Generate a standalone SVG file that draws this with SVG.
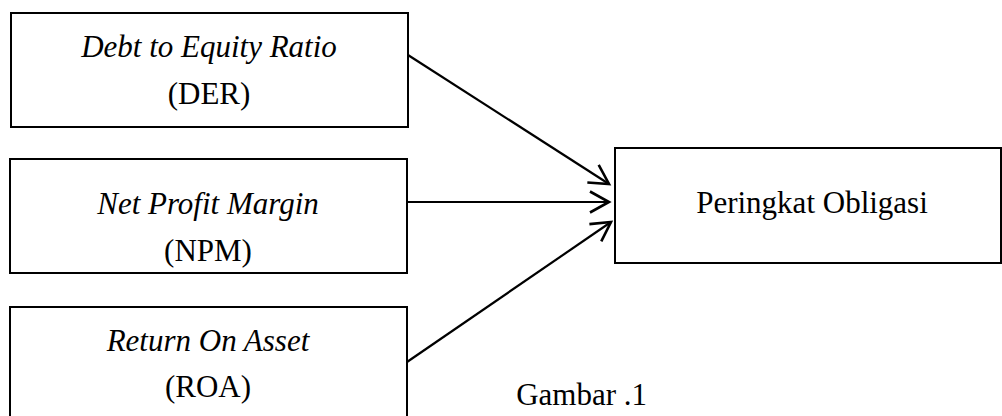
<svg xmlns="http://www.w3.org/2000/svg" width="1002" height="416" viewBox="0 0 1002 416">
<defs>
<style>
.box{fill:#fff;stroke:#000;stroke-width:2}
.t{font-family:"Liberation Serif","Times New Roman",serif;font-size:31px;fill:#000;text-anchor:middle}
.i{font-style:italic}
.c{fill:none;stroke:#000;stroke-width:2.2}
</style>
<marker id="ah" markerUnits="userSpaceOnUse" markerWidth="30" markerHeight="30" viewBox="-25 -15 30 30" refX="0" refY="0" orient="auto">
<path d="M-19,-10.5 L0,0 L-19,10.5" fill="none" stroke="#000" stroke-width="2.6"/>
</marker>
</defs>
<g id="der">
<rect class="box" x="11" y="13" width="397" height="114"/>
<text class="t i" x="209" y="57">Debt to Equity Ratio</text>
<text class="t" x="209" y="104">(DER)</text>
</g>
<g id="npm">
<rect class="box" x="10" y="159" width="397" height="114"/>
<text class="t i" x="208" y="214">Net Profit Margin</text>
<text class="t" x="208" y="261">(NPM)</text>
</g>
<g id="roa">
<rect class="box" x="10" y="307" width="397" height="120"/>
<text class="t i" x="208" y="351">Return On Asset</text>
<text class="t" x="208" y="397">(ROA)</text>
</g>
<g id="po">
<rect class="box" x="615" y="148" width="386" height="115"/>
<text class="t" x="812" y="213">Peringkat Obligasi</text>
</g>
<g id="connectors">
<line class="c" x1="408" y1="55" x2="609" y2="184" marker-end="url(#ah)"/>
<line class="c" x1="407" y1="202" x2="609" y2="202" marker-end="url(#ah)"/>
<line class="c" x1="407" y1="362" x2="611" y2="222" marker-end="url(#ah)"/>
</g>
<text class="t" x="647" y="405" style="text-anchor:end">Gambar .1</text>
</svg>
